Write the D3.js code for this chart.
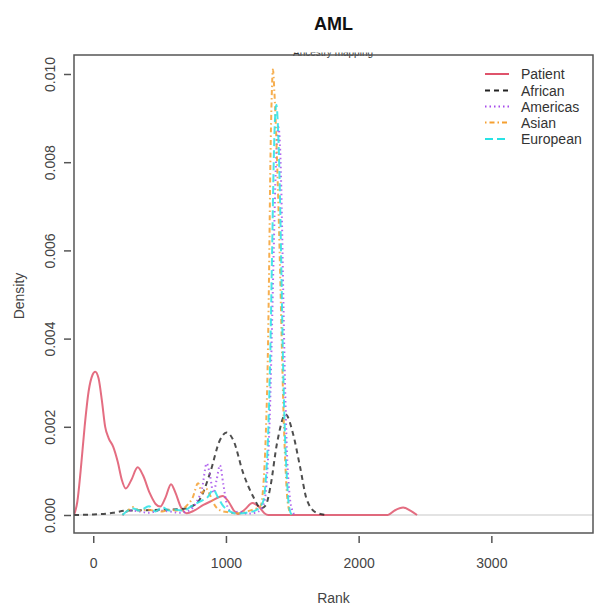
<!DOCTYPE html>
<html><head><meta charset="utf-8">
<script src="https://cdn.jsdelivr.net/npm/d3@7"></script>
<style>body{margin:0;background:#fff}svg{display:block}text{font-family:"Liberation Sans",Arial,sans-serif}</style>
</head><body><div id="chart"></div>
<script>
const title = "AML";
const subtitle = "Ancestry mapping";
const xLabel = "Rank";
const yLabel = "Density";
const xTicks = [0, 1000, 2000, 3000];
const yTicks = [0, 0.002, 0.004, 0.006, 0.008, 0.010];
const seriesNames = ["Patient", "African", "Americas", "Asian", "European"];

// [rank, density] points
const patient = [[-145,0],[-120,0.0003],[-95,0.001],[-65,0.002],[-35,0.0028],[-5,0.00318],[15,0.00325],[40,0.0031],[65,0.0026],[90,0.002],[115,0.00175],[150,0.00155],[185,0.0012],[215,0.0008],[245,0.0006],[285,0.00078],[335,0.00108],[375,0.0009],[425,0.0005],[470,0.00025],[505,0.00019],[545,0.0004],[586,0.0007],[620,0.0005],[660,0.00018],[705,0.00004],[760,0.0001],[830,0.00023],[900,0.00033],[975,0.00043],[1020,0.0003],[1060,0.0001],[1090,0.00002],[1140,0.00012],[1200,0.00027],[1250,0.00018],[1290,0.00004],[1320,0],[2220,0],[2270,0.0001],[2335,0.00017],[2390,0.0001],[2440,0]];
const african = [[-145,0],[0,0.00001],[150,0.00005],[250,0.0001],[400,0.00011],[550,0.00012],[650,0.00013],[720,0.00017],[800,0.00034],[880,0.00095],[955,0.0017],[1005,0.00187],[1055,0.0017],[1130,0.00095],[1205,0.00042],[1265,0.00015],[1300,0.00022],[1335,0.00064],[1385,0.00163],[1450,0.00228],[1505,0.00185],[1558,0.0011],[1610,0.00034],[1683,0.00005],[1765,0]];
const americas = [[220,0],[280,0.0001],[350,0.00008],[420,0.00005],[500,0.0001],[580,0.00008],[650,0.00005],[720,0.0001],[780,0.0003],[820,0.0006],[855,0.00117],[880,0.0009],[905,0.0005],[930,0.0008],[955,0.00113],[980,0.0007],[1010,0.0002],[1050,0.00005],[1100,0.00008],[1160,0.00003],[1220,0.00005],[1260,0.00012],[1290,0.0003],[1310,0.0009],[1330,0.0022],[1345,0.004],[1360,0.006],[1372,0.0075],[1385,0.0085],[1395,0.0088],[1407,0.0084],[1420,0.007],[1432,0.005],[1445,0.003],[1460,0.0014],[1478,0.0005],[1500,0.0001],[1520,0]];
const asian = [[220,0],[260,0.0001],[300,0.00018],[350,0.0001],[400,0.00012],[460,0.0001],[520,0.00008],[580,0.00012],[640,0.0001],[700,0.0002],[750,0.0004],[790,0.00072],[820,0.0005],[850,0.0006],[880,0.00045],[920,0.0002],[960,0.0001],[1020,0.00006],[1100,0.00004],[1180,0.0001],[1230,0.00015],[1260,0.0002],[1280,0.0006],[1300,0.0018],[1315,0.0035],[1325,0.0055],[1335,0.008],[1345,0.0095],[1354,0.0101],[1365,0.0096],[1380,0.0085],[1400,0.0065],[1420,0.004],[1435,0.0022],[1450,0.001],[1465,0.0003],[1490,0]];
const european = [[220,0],[260,0.0001],[300,0.00015],[350,0.0001],[420,0.0002],[470,0.00008],[520,0.00018],[570,0.0001],[620,0.00012],[680,0.0001],[740,0.0002],[800,0.0003],[860,0.0004],[906,0.00057],[940,0.0004],[980,0.0002],[1020,0.0001],[1080,0.00003],[1150,0.00005],[1220,0.0001],[1260,0.0002],[1280,0.0003],[1300,0.0008],[1320,0.002],[1335,0.0038],[1348,0.006],[1360,0.008],[1370,0.009],[1380,0.0093],[1392,0.0088],[1405,0.0075],[1418,0.0055],[1430,0.0035],[1445,0.0018],[1460,0.0008],[1475,0.0002],[1495,0]];

const seriesData = [patient, african, americas, asian, european];
const colors = ["#DF536B", "#222222", "#A64DEB", "#F5A030", "#28E2E5"];
const dashes = [null, "5,4", "1.5,3", "1.5,3,5,3", "8,4"];

const W = 600, H = 614;
const box = {left: 74, right: 593, top: 55, bottom: 533};
const x = d3.scaleLinear().domain([-145, 3766]).range([box.left, box.right]);
const y = d3.scaleLinear().domain([0, 0.010]).range([515, 74]);

const svg = d3.select("#chart").append("svg").attr("width", W).attr("height", H);

svg.append("text").attr("x", 333.5).attr("y", 30).attr("text-anchor", "middle")
  .attr("font-size", 18).attr("font-weight", "bold").attr("fill", "#111").text(title);

// partially hidden subtitle
svg.append("clipPath").attr("id", "subclip").append("rect")
  .attr("x", 0).attr("y", 52.5).attr("width", W).attr("height", 8);
svg.append("text").attr("x", 333).attr("y", 56).attr("text-anchor", "middle")
  .attr("font-size", 10).attr("fill", "#333").attr("clip-path", "url(#subclip)").text(subtitle);

svg.append("clipPath").attr("id", "plotclip").append("rect")
  .attr("x", box.left).attr("y", box.top).attr("width", box.right - box.left).attr("height", box.bottom - box.top);

const plot = svg.append("g").attr("clip-path", "url(#plotclip)");
plot.append("line").attr("x1", box.left).attr("x2", box.right).attr("y1", y(0)).attr("y2", y(0))
  .attr("stroke", "#c8c8c8").attr("stroke-width", 1.2);

const line = d3.line().x(d => x(d[0])).y(d => y(d[1])).curve(d3.curveMonotoneX);
seriesData.forEach((s, i) => {
  plot.append("path").datum(s).attr("d", line).attr("fill", "none")
    .attr("stroke", colors[i]).attr("stroke-width", 2).attr("stroke-opacity", i === 1 ? 0.8 : 0.85)
    .attr("stroke-dasharray", dashes[i]);
});

// box
svg.append("rect").attr("x", box.left).attr("y", box.top).attr("width", box.right - box.left)
  .attr("height", box.bottom - box.top).attr("fill", "none").attr("stroke", "#555").attr("stroke-width", 1.5);

// x axis
const xAxis = d3.axisBottom(x).tickValues(xTicks).tickSize(7).tickPadding(15).tickFormat(d3.format("d"));
const gx = svg.append("g").attr("transform", `translate(0,${box.bottom + 3})`).call(xAxis);
gx.select(".domain").attr("stroke", "#555").attr("stroke-width", 1.5).attr("d", `M${x(0)},0H${x(3000)}`).remove();
gx.selectAll(".tick line").attr("stroke", "#555").attr("stroke-width", 1.5);
gx.selectAll(".tick text").attr("font-size", 14).attr("fill", "#444").attr("font-family", "Liberation Sans, Arial, sans-serif");

// y axis
const yAxis = d3.axisLeft(y).tickValues(yTicks).tickSize(7).tickFormat(d3.format(".3f"));
const gy = svg.append("g").attr("transform", `translate(${box.left - 3},0)`).call(yAxis);
gy.select(".domain").remove();
gy.selectAll(".tick line").attr("stroke", "#555").attr("stroke-width", 1.5);
gy.selectAll(".tick text").attr("font-size", 14).attr("fill", "#444").attr("font-family", "Liberation Sans, Arial, sans-serif")
  .attr("x", 0).attr("dy", 0).attr("text-anchor", "middle")
  .attr("transform", "translate(-16,0) rotate(-90)");

svg.append("text").attr("x", 333.5).attr("y", 603).attr("text-anchor", "middle")
  .attr("font-size", 14).attr("fill", "#444").text(xLabel);
svg.append("text").attr("transform", "translate(24,296) rotate(-90)").attr("text-anchor", "middle")
  .attr("font-size", 14).attr("fill", "#444").text(yLabel);

// legend
const legY = [74, 90.5, 106.5, 122.5, 139];
const leg = svg.append("g");
seriesNames.forEach((n, i) => {
  leg.append("line").attr("x1", 485).attr("x2", 509).attr("y1", legY[i]).attr("y2", legY[i])
    .attr("stroke", colors[i]).attr("stroke-width", 2).attr("stroke-dasharray", dashes[i]);
  leg.append("text").attr("x", 521).attr("y", legY[i] + 5).attr("font-size", 14).attr("fill", "#333").text(n);
});
</script></body></html>
